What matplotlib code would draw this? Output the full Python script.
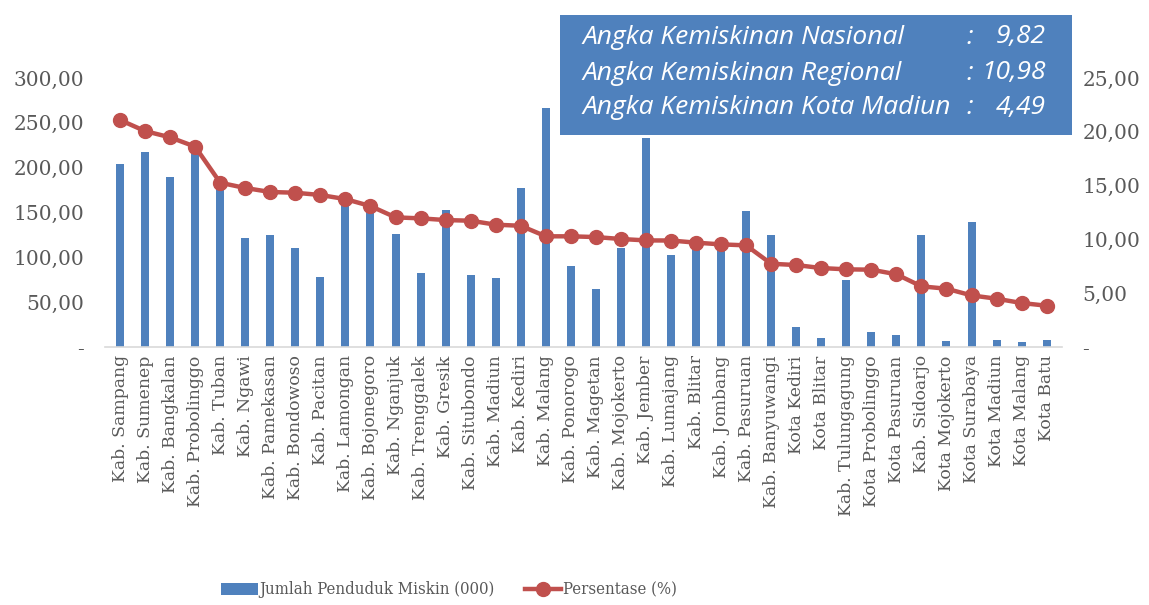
import numpy as np
import matplotlib
matplotlib.use("Agg")
import matplotlib.pyplot as plt
from matplotlib.patches import Rectangle

# data
wilayah = ["Kab. Sampang", "Kab. Sumenep", "Kab. Bangkalan", "Kab. Probolinggo",
           "Kab. Tuban", "Kab. Ngawi", "Kab. Pamekasan", "Kab. Bondowoso",
           "Kab. Pacitan", "Kab. Lamongan", "Kab. Bojonegoro", "Kab. Nganjuk",
           "Kab. Trenggalek", "Kab. Gresik", "Kab. Situbondo", "Kab. Madiun",
           "Kab. Kediri", "Kab. Malang", "Kab. Ponorogo", "Kab. Magetan",
           "Kab. Mojokerto", "Kab. Jember", "Kab. Lumajang", "Kab. Blitar",
           "Kab. Jombang", "Kab. Pasuruan", "Kab. Banyuwangi", "Kota Kediri",
           "Kota Blitar", "Kab. Tulungagung", "Kota Probolinggo", "Kota Pasuruan",
           "Kab. Sidoarjo", "Kota Mojokerto", "Kota Surabaya", "Kota Madiun",
           "Kota Malang", "Kota Batu"]

jumlah_miskin = [204, 218, 190, 225, 182, 122, 125, 110, 78, 162, 155, 126,
                 83, 153, 80, 77, 177, 267, 90, 65, 111, 233, 103, 113,
                 110, 152, 125, 22, 10, 75, 17, 13, 125, 7, 140, 8, 5.6, 8]

persentase = [21.10, 20.07, 19.49, 18.62, 15.27, 14.78, 14.41, 14.34, 14.13,
              13.75, 13.10, 12.05, 11.96, 11.80, 11.74, 11.37, 11.27, 10.29,
              10.29, 10.22, 10.04, 9.91, 9.90, 9.70, 9.54, 9.45, 7.74, 7.62,
              7.34, 7.22, 7.19, 6.76, 5.64, 5.42, 4.80, 4.49, 4.09, 3.84]

info_label = ["Angka Kemiskinan Nasional", "Angka Kemiskinan Regional",
              "Angka Kemiskinan Kota Madiun"]
info_value = ["9,82", "10,98", "4,49"]

blue = "#4F81BD"
red = "#C0504D"
grey = "#595959"
serif = "DejaVu Serif"


def fmt(v, pos):
    if v == 0:
        return "-"
    return ("%.2f" % v).replace(".", ",")


fig = plt.figure(figsize=(11.49, 6.05), dpi=100)
ax = fig.add_axes([0.0914, 0.4264, 0.8326, 0.4446])
ax2 = ax.twinx()

x = np.arange(len(wilayah))
bars = ax.bar(x, jumlah_miskin, width=0.32, color=blue, zorder=2,
              label="Jumlah Penduduk Miskin (000)")
line, = ax2.plot(x, persentase, color=red, lw=3.2, marker="o", ms=10,
                 zorder=3, label="Persentase (%)")

ax.set_xlim(-0.6, len(wilayah) - 0.4)
ax.set_ylim(0, 300)
ax2.set_ylim(0, 25)
ax.set_yticks(np.arange(0, 301, 50))
ax2.set_yticks(np.arange(0, 26, 5))
ax.yaxis.set_major_formatter(plt.FuncFormatter(fmt))
ax2.yaxis.set_major_formatter(plt.FuncFormatter(fmt))

ax.set_xticks(x)
ax.set_xticklabels(wilayah, rotation=90, fontsize=12.4, family=serif, color=grey)
ax.tick_params(axis="x", length=0, pad=6)
ax.tick_params(axis="y", length=0, pad=15, labelsize=14.5, labelcolor=grey)
ax2.tick_params(axis="y", length=0, pad=15, labelsize=14.5, labelcolor=grey)
for lab in ax.get_yticklabels() + ax2.get_yticklabels():
    lab.set_family(serif)

for a in (ax, ax2):
    for s in ["top", "left", "right"]:
        a.spines[s].set_visible(False)
ax.spines["bottom"].set_color("#D9D9D9")
ax.spines["bottom"].set_linewidth(1.2)
ax2.spines["bottom"].set_visible(False)

# info box
box = Rectangle((560 / 1149, 1 - 135 / 605), 512 / 1149, 120 / 605,
                transform=fig.transFigure, facecolor=blue, edgecolor="none",
                zorder=5)
fig.add_artist(box)
ys = [37, 73, 108]
for lab, val, yy in zip(info_label, info_value, ys):
    fig.text(582 / 1149, 1 - yy / 605, lab, color="white", fontsize=19,
             style="italic", family="Open Sans", va="center", zorder=6)
    fig.text(966 / 1149, 1 - yy / 605, ":", color="white", fontsize=19,
             style="italic", family="Open Sans", va="center", zorder=6)
    fig.text(1046 / 1149, 1 - yy / 605, val, color="white", fontsize=19,
             style="italic", family="Open Sans", va="center", ha="right",
             zorder=6)

leg = fig.legend(handles=[bars, line], loc="center", ncol=2,
                 bbox_to_anchor=(449 / 1149, 1 - 590 / 605), frameon=False,
                 prop={"family": serif, "size": 12, "stretch": "condensed"},
                 handlelength=2.2, handletextpad=0.1, columnspacing=1.8)
for t in leg.get_texts():
    t.set_color(grey)

fig.savefig("out.png", dpi=100)
